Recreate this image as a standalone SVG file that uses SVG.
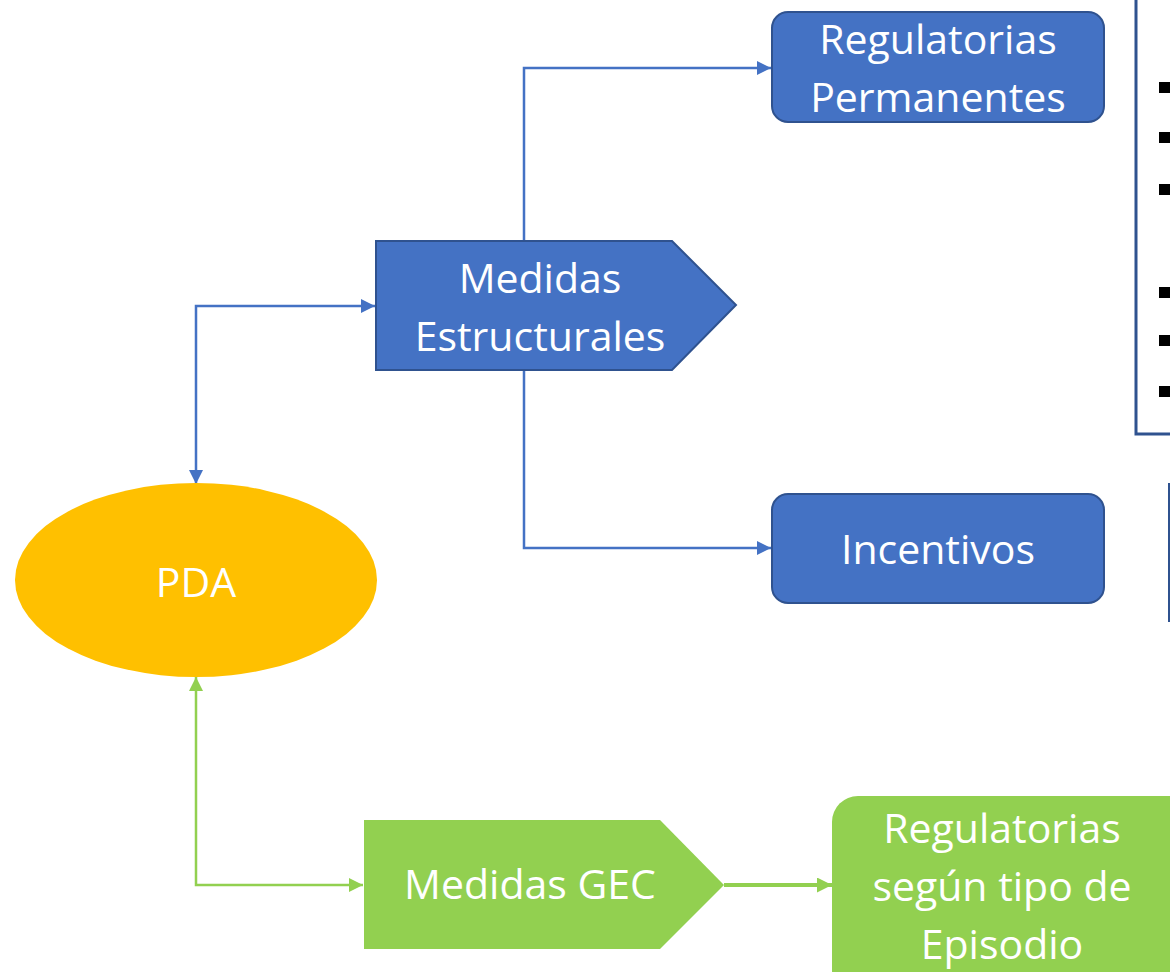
<svg xmlns="http://www.w3.org/2000/svg" width="1170" height="972" viewBox="0 0 1170 972">
<defs>
<style>
.blue{fill:#4472C4;stroke:#2F528F;stroke-width:2}
.green{fill:#92D050;stroke:none}
.t{font-family:"Open Sans","Noto Sans",sans-serif;font-size:41px;fill:#fff;text-anchor:middle}
.cb{fill:none;stroke:#4472C4;stroke-width:2.5}
.cg{fill:none;stroke:#92D050;stroke-width:2.5}
.bul{fill:#000}
</style>
<marker id="ab" viewBox="0 0 10 10" refX="10" refY="5" markerWidth="14" markerHeight="14" orient="auto-start-reverse" markerUnits="userSpaceOnUse"><path d="M0,0 L10,5 L0,10 Z" fill="#4472C4"/></marker>
<marker id="ag" viewBox="0 0 10 10" refX="10" refY="5" markerWidth="14" markerHeight="14" orient="auto-start-reverse" markerUnits="userSpaceOnUse"><path d="M0,0 L10,5 L0,10 Z" fill="#92D050"/></marker>
<marker id="ag2" viewBox="0 0 10 10" refX="10" refY="5" markerWidth="15" markerHeight="15" orient="auto" markerUnits="userSpaceOnUse"><path d="M0,0 L10,5 L0,10 Z" fill="#92D050"/></marker>
</defs>
<rect width="1170" height="972" fill="#fff"/>
<g id="connectors">
<polyline class="cb" points="524,241 524,68 771,68" marker-end="url(#ab)"/>
<polyline class="cb" points="524,370 524,548 771,548" marker-end="url(#ab)"/>
<polyline class="cb" points="196,484 196,306 375,306" marker-start="url(#ab)" marker-end="url(#ab)"/>
<polyline class="cg" points="196,677 196,885 363,885" marker-start="url(#ag)" marker-end="url(#ag)"/>
<line x1="724" y1="885" x2="832" y2="885" stroke="#92D050" stroke-width="4" marker-end="url(#ag2)"/>
</g>
<g id="side-panel">
<polyline points="1136,0 1136,434 1170,434" fill="none" stroke="#2F528F" stroke-width="3"/>
<rect class="bul" x="1159" y="82" width="11" height="11"/>
<rect class="bul" x="1159" y="132" width="11" height="11"/>
<rect class="bul" x="1159" y="184" width="11" height="11"/>
<rect class="bul" x="1159" y="287" width="11" height="11"/>
<rect class="bul" x="1159" y="335" width="11" height="11"/>
<rect class="bul" x="1159" y="386" width="11" height="11"/>
<line x1="1169" y1="483" x2="1169" y2="622" stroke="#2F528F" stroke-width="2"/>
</g>
<g id="reg-permanentes">
<rect class="blue" x="772" y="12" width="332" height="110" rx="16"/>
<text class="t" x="938" y="54">Regulatorias</text>
<text class="t" x="938" y="112">Permanentes</text>
</g>
<g id="medidas-estructurales">
<polygon class="blue" points="376,241 672,241 736,305 672,370 376,370"/>
<text class="t" x="540" y="293">Medidas</text>
<text class="t" x="540" y="351">Estructurales</text>
</g>
<g id="incentivos">
<rect class="blue" x="772" y="494" width="332" height="109" rx="16"/>
<text class="t" x="938" y="564">Incentivos</text>
</g>
<g id="pda">
<ellipse cx="196" cy="580" rx="181" ry="97" fill="#FFC000"/>
<text class="t" x="196" y="597">PDA</text>
</g>
<g id="medidas-gec">
<polygon class="green" points="364,820 660,820 724,885 660,949 364,949"/>
<text class="t" x="530" y="899">Medidas GEC</text>
</g>
<g id="reg-episodio">
<rect class="green" x="832" y="796" width="370" height="200" rx="26"/>
<text class="t" x="1002" y="843">Regulatorias</text>
<text class="t" x="1002" y="901">según tipo de</text>
<text class="t" x="1002" y="959">Episodio</text>
</g>
</svg>
